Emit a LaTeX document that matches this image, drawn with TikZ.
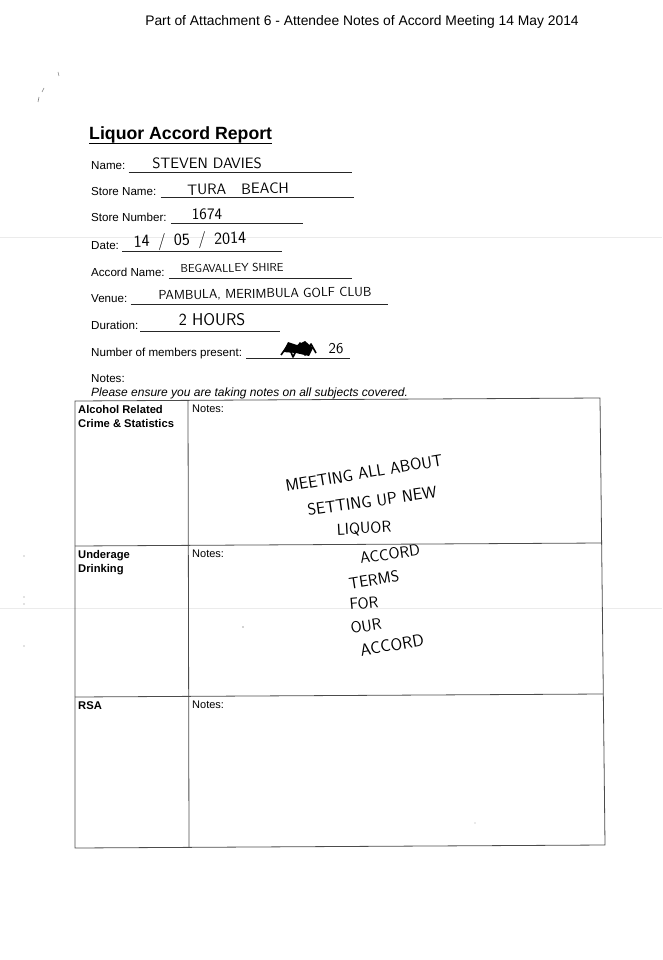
\documentclass[tikz,border=0pt]{standalone}
\usepackage{fontspec}
\setmainfont{Liberation Sans}
\usetikzlibrary{positioning}
\tikzset{field/.style = {anchor=base west, inner sep=0pt, font=\fontsize{11.6}{13}\selectfont}}
\tikzset{hand/.style = {inner sep=0pt, font=\sffamily\fontsize{#1}{#1}\selectfont\addfontfeature{LetterSpace=12}}, hand/.default=15}
\tikzset{fill line/.style = {line width=0.7pt, black!85}}
\tikzset{rule/.style = {line width=0.8pt, black!70}}
\tikzset{head/.style = {anchor=north west, inner sep=0pt, align=left, font=\bfseries\fontsize{11.2}{14.5}\selectfont}}
\tikzset{notes/.style = {anchor=north west, inner sep=0pt, font=\fontsize{11}{13}\selectfont}}
\tikzset{speck/.style = {gray, line width=0.6pt}}

\begin{document}
\begin{tikzpicture}[x=1pt, y=-1pt]
  \useasboundingbox (0,0) rectangle (662,960);

  % faint scan lines
  \draw[black!8, line width=0.6pt] (0,237) -- (662,237);
  \draw[black!8, line width=0.6pt] (0,608) -- (662,608);

  \node [anchor=base, inner sep=0pt, font=\fontsize{13.85}{16}\selectfont] (hdr) at (362,26) {Part of Attachment 6 - Attendee Notes of Accord Meeting 14 May 2014};

  \node [anchor=base west, inner sep=0pt, font=\bfseries\fontsize{17.7}{20}\selectfont] (ttl) at (89,140) {Liquor Accord Report};
  \draw[line width=1.2pt] ([yshift=-3.5pt]ttl.base west) -- ([yshift=-3.5pt]ttl.base east);

  % form fields
  \node [field] (nm) at (91,170) {Name:};
  \node [field] (sn) at (91,195) {Store Name:};
  \node [field] (snum) at (91,221) {Store Number:};
  \node [field] (dt) at (91,249) {Date:};
  \node [field] (an) at (91,276) {Accord Name:};
  \node [field] (ven) at (91,302) {Venue:};
  \node [field] (dur) at (91,329) {Duration:};
  \node [field] (mem) at (91,356) {Number of members present:};

  \coordinate (nm end) at (352,172);
  \coordinate (sn end) at (354,197);
  \coordinate (snum end) at (303,223);
  \coordinate (dt end) at (282,251);
  \coordinate (an end) at (352,278);
  \coordinate (ven end) at (388,304);
  \coordinate (dur end) at (280,331);
  \coordinate (mem end) at (350,358);

  \draw[fill line] ([shift={(3,2)}]nm.base east) -- (nm end);
  \draw[fill line] ([shift={(4,2)}]sn.base east) -- (sn end);
  \draw[fill line] ([shift={(4,2)}]snum.base east) -- (snum end);
  \draw[fill line] ([shift={(3,2)}]dt.base east) -- (dt end);
  \draw[fill line] ([shift={(4,2)}]an.base east) -- (an end);
  \draw[fill line] ([shift={(3,2)}]ven.base east) -- (ven end);
  \draw[fill line] ([shift={(2,2)}]dur.base east) -- (dur end);
  \draw[fill line] ([shift={(4,2)}]mem.base east) -- (mem end);

  % handwritten answers
  \node [hand] (nmv) at (207,163) {STEVEN DAVIES};
  \node [hand, rotate=1] (snv) at (238,189) {TURA\quad BEACH};
  \node [hand=16] (snumv) at (207,214) {1674};
  \node [hand=17, rotate=2] (dtv) at (190,241) {14 \,/\, 05 \,/\, 2014};
  \node [hand=11.5, rotate=1] (anv) at (232,268) {BEGAVALLEY SHIRE};
  \node [hand=13, rotate=1] (venv) at (265,294) {PAMBULA, MERIMBULA GOLF CLUB};
  \node [hand=17] (durv) at (212,320) {2 HOURS};
  \node [hand=15] (memv) at (336,349) {26};
  \fill (283,352) -- (288,342) -- (297,345) -- (305,341) -- (313,348) -- (309,356) -- (296,353) -- cycle;
  \draw[line width=1.6pt, line join=round] (281,355) -- (288,345) -- (293,357) -- (300,343) -- (305,355) -- (311,344) -- (316,353);

  \node [field] (nts) at (91,382) {Notes:};
  \node [field, font=\itshape\fontsize{12}{13}\selectfont] (ask) at (91,396) {Please ensure you are taking notes on all subjects covered.};

  % table
  \coordinate (tl) at (75,401);
  \coordinate (tr) at (600,398);
  \coordinate (br) at (605,845);
  \coordinate (bl) at (75,848);
  \coordinate (mt) at (188,400);
  \coordinate (mb) at (189,847);
  \coordinate (r1l) at (75,546);
  \coordinate (r1r) at (602,543);
  \coordinate (r2l) at (75,697);
  \coordinate (r2r) at (603,694);

  \draw[rule] (tl) -- (tr) -- (br) -- (bl) -- cycle;
  \draw[rule] (mt) -- (mb);
  \draw[rule] (r1l) -- (r1r);
  \draw[rule] (r2l) -- (r2r);

  \node [head] (crime) at (78,405) {Alcohol Related\\Crime \& Statistics};
  \node [notes] (crimen) at (192,405) {Notes:};
  \node [head] (under) at (78,550) {Underage\\Drinking};
  \node [notes] (undern) at (192,550) {Notes:};
  \node [head] (rsa) at (78,701) {RSA};
  \node [notes] (rsan) at (192,701) {Notes:};

  % handwritten notes
  \node [hand=16.5, rotate=9.5] (n1) at (364,473) {MEETING ALL ABOUT};
  \node [hand=16.5, rotate=8] (n2) at (372,501) {SETTING UP NEW};
  \node [hand=16, rotate=3] (n3) at (364,529) {LIQUOR};
  \node [hand=16, rotate=8] (n4) at (390,554) {ACCORD};
  \node [hand=16, rotate=9] (n5) at (374,580) {TERMS};
  \node [hand=16, rotate=5] (n6) at (364,603) {FOR};
  \node [hand=16, rotate=9] (n7) at (366,626) {OUR};
  \node [hand=17, rotate=10] (n8) at (392,645) {ACCORD};

  % specks
  \draw[speck] (58,72) -- (59,76);
  \draw[speck] (44,88) -- (42,92);
  \draw[speck] (39,97) -- (38,102);
  \fill[gray] (24,556) circle (0.7);
  \fill[gray] (24,597) circle (0.7);
  \fill[gray] (24,604) circle (0.7);
  \fill[gray] (24,646) circle (0.7);
  \fill[gray!70] (243,627) circle (0.8);
  \fill[gray!70] (475,823) circle (0.6);
\end{tikzpicture}
\end{document}
